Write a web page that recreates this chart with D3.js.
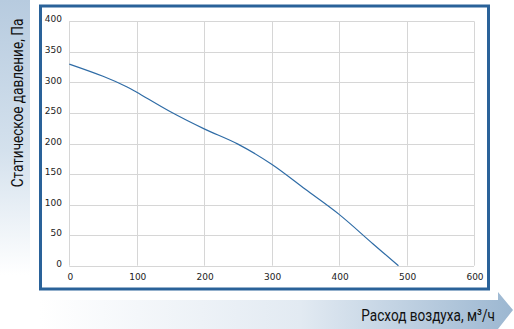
<!DOCTYPE html>
<html>
<head>
<meta charset="utf-8">
<script src="https://cdn.jsdelivr.net/npm/d3@7"></script>
<style>
  body { margin: 0; background: #fff; }
  svg { display: block; }
</style>
</head>
<body>
<div id="chart"></div>
<script>
// airflow, m3/h
const flow = [0, 50, 85, 100, 150, 200, 250, 300, 350, 400, 450, 488]
// static pressure, Pa
const pressure = [330, 310, 293, 284, 252, 224, 199, 166, 125, 84, 36, 0]

const xTicks = [0, 100, 200, 300, 400, 500, 600]
const yTicks = [0, 50, 100, 150, 200, 250, 300, 350, 400]

const yTitle = 'Статическое давление, Па'
const xTitle = 'Расход воздуха, м³/ч'

const width = 514
const height = 329
const margin = ({ top: 21.3, right: 40, bottom: 63.3, left: 69.3 })

const x = d3.scaleLinear()
    .domain([0, 600])
    .range([margin.left, width - margin.right])

const y = d3.scaleLinear()
    .domain([0, 400])
    .range([height - margin.bottom, margin.top])

const svg = d3.select('#chart')
    .append('svg')
    .attr('width', width)
    .attr('height', height)

const defs = svg.append('defs')

const gLeft = defs.append('linearGradient')
    .attr('id', 'gleft')
    .attr('x1', 0).attr('y1', 0).attr('x2', 0).attr('y2', 1)
gLeft.append('stop').attr('offset', '0%').attr('stop-color', '#b7cbdf')
gLeft.append('stop').attr('offset', '55%').attr('stop-color', '#d4e1ed')
gLeft.append('stop').attr('offset', '100%').attr('stop-color', '#ffffff')

const gBottom = defs.append('linearGradient')
    .attr('id', 'gbottom')
    .attr('x1', 0).attr('y1', 0).attr('x2', 1).attr('y2', 0)
gBottom.append('stop').attr('offset', '0%').attr('stop-color', '#ffffff')
gBottom.append('stop').attr('offset', '55%').attr('stop-color', '#e2eaf2')
gBottom.append('stop').attr('offset', '100%').attr('stop-color', '#9cb7d1')

// left title band
svg.append('rect')
    .attr('x', 0)
    .attr('y', 0)
    .attr('width', 30)
    .attr('height', 275)
    .attr('fill', 'url(#gleft)')

// bottom arrow band
svg.append('path')
    .attr('d', 'M40,300 L498,300 L498,292 L513,310 L498,329 L40,329 Z')
    .attr('fill', 'url(#gbottom)')

// frame
svg.append('rect')
    .attr('x', 40.5)
    .attr('y', 6)
    .attr('width', 448)
    .attr('height', 283)
    .attr('fill', '#fff')
    .attr('stroke', '#2a6299')
    .attr('stroke-width', 3)

// grid
svg.append('g')
    .attr('stroke', '#d6d6d6')
    .attr('stroke-width', 1)
    .call(g => g.selectAll('line.v')
        .data(xTicks)
        .join('line')
        .attr('class', 'v')
        .attr('x1', d => Math.round(x(d)) + 0.5)
        .attr('x2', d => Math.round(x(d)) + 0.5)
        .attr('y1', y(400))
        .attr('y2', y(0)))
    .call(g => g.selectAll('line.h')
        .data(yTicks)
        .join('line')
        .attr('class', 'h')
        .attr('x1', x(0))
        .attr('x2', x(600))
        .attr('y1', d => Math.round(y(d)) + 0.5)
        .attr('y2', d => Math.round(y(d)) + 0.5))

// tick labels
const tickFont = "'DejaVu Sans', sans-serif"

svg.append('g')
    .selectAll('text')
    .data(yTicks)
    .join('text')
    .attr('x', 62)
    .attr('y', d => y(d) - 2)
    .attr('dy', '0.35em')
    .attr('text-anchor', 'end')
    .attr('font-family', tickFont)
    .attr('font-size', 9)
    .attr('fill', '#222')
    .text(d => d)

svg.append('g')
    .selectAll('text')
    .data(xTicks)
    .join('text')
    .attr('x', d => x(d) + 1)
    .attr('y', 277)
    .attr('dy', '0.35em')
    .attr('text-anchor', 'middle')
    .attr('font-family', tickFont)
    .attr('font-size', 9)
    .attr('fill', '#222')
    .text(d => d)

// curve
const line = d3.line()
    .x(d => x(d[0]))
    .y(d => y(d[1]))
    .curve(d3.curveCatmullRom)

svg.append('path')
    .datum(d3.zip(flow, pressure))
    .attr('fill', 'none')
    .attr('stroke', '#2f6ca6')
    .attr('stroke-width', 1.2)
    .attr('d', line)

// titles, condensed by horizontal squeeze
const titleFont = "'Roboto', 'DejaVu Sans', sans-serif"

svg.append('text')
    .attr('transform', 'translate(23,103) rotate(-90) scale(0.8,1)')
    .attr('text-anchor', 'middle')
    .attr('font-family', titleFont)
    .attr('font-size', 17)
    .attr('fill', '#111')
    .text(yTitle)

svg.append('text')
    .attr('transform', 'translate(495,321) scale(0.8,1)')
    .attr('text-anchor', 'end')
    .attr('font-family', titleFont)
    .attr('font-size', 17)
    .attr('fill', '#111')
    .text(xTitle)
</script>
</body>
</html>
